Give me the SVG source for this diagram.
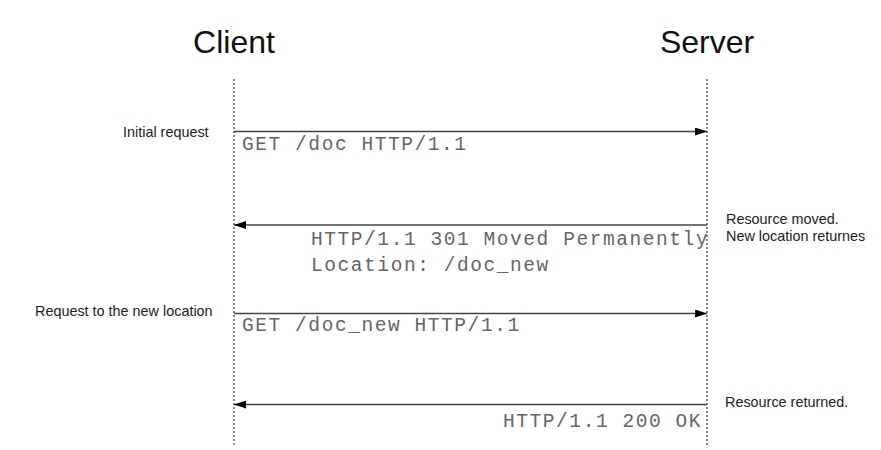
<svg xmlns="http://www.w3.org/2000/svg" width="881" height="450" viewBox="0 0 881 450">
<defs>
<style>
.title{font-family:"Liberation Sans",Arial,sans-serif;font-size:32px;fill:#111;text-anchor:middle}
.note{font-family:"Liberation Sans",Arial,sans-serif;font-size:14.4px;fill:#222}
.mono{font-family:"Liberation Mono","Courier New",monospace;font-size:19.5px;letter-spacing:1.57px;fill:#666}
.life{stroke:#111;stroke-width:1;stroke-dasharray:2,2;fill:none}
.msg{stroke:#444;stroke-width:1.5;fill:none}
</style>
<marker id="ah" viewBox="0 0 12 8" refX="12" refY="4" markerWidth="12" markerHeight="8" markerUnits="userSpaceOnUse" orient="auto">
<path d="M0,0 L12,4 L0,8 Z" fill="#000"/>
</marker>
</defs>
<rect width="881" height="450" fill="#fff"/>
<g id="client">
<text class="title" x="234" y="53">Client</text>
<line class="life" x1="234" y1="79" x2="234" y2="446"/>
</g>
<g id="server">
<text class="title" x="707" y="53">Server</text>
<line class="life" x1="707" y1="79" x2="707" y2="446"/>
</g>
<g id="connectors">
<line class="msg" x1="234" y1="131.5" x2="707" y2="131.5" marker-end="url(#ah)"/>
<line class="msg" x1="707" y1="225" x2="234" y2="225" marker-end="url(#ah)"/>
<line class="msg" x1="234" y1="313.5" x2="707" y2="313.5" marker-end="url(#ah)"/>
<line class="msg" x1="707" y1="404.5" x2="234" y2="404.5" marker-end="url(#ah)"/>
</g>
<g id="labels">
<text class="mono" x="242" y="150">GET /doc HTTP/1.1</text>
<text class="mono" x="311" y="245">HTTP/1.1 301 Moved Permanently</text>
<text class="mono" x="311" y="271">Location: /doc_new</text>
<text class="mono" x="242" y="331">GET /doc_new HTTP/1.1</text>
<text class="mono" x="503" y="427">HTTP/1.1 200 OK</text>
</g>
<g id="notes">
<text class="note" x="123" y="137">Initial request</text>
<text class="note" x="726" y="224">Resource moved.</text>
<text class="note" x="726" y="241">New location returnes</text>
<text class="note" x="35" y="316">Request to the new location</text>
<text class="note" x="725" y="407">Resource  returned.</text>
</g>
</svg>
